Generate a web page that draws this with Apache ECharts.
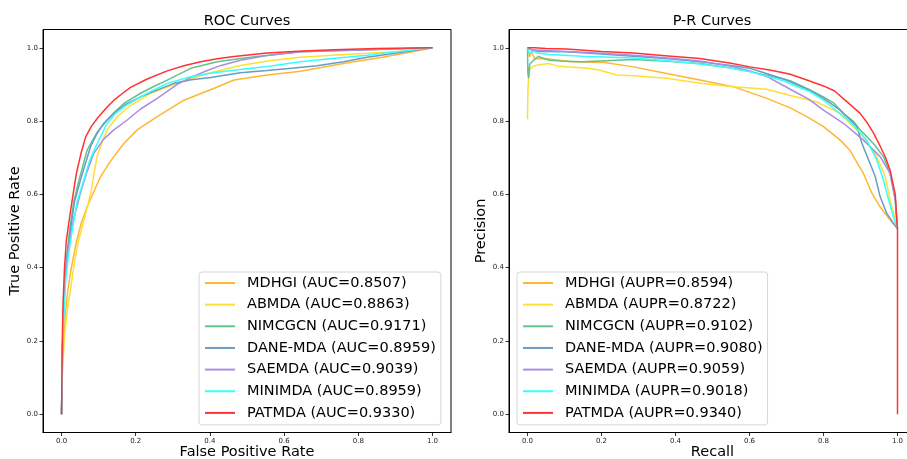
<!DOCTYPE html>
<html>
<head>
<meta charset="utf-8">
<script src="https://cdn.jsdelivr.net/npm/echarts@6/dist/echarts.min.js"></script>
<style>
  html, body { margin: 0; padding: 0; background: #fff; }
  #chart { width: 907px; height: 459px; }
</style>
</head>
<body>
<div id="chart"></div>
<script>
// Model names, in legend order
const models = ['MDHGI', 'ABMDA', 'NIMCGCN', 'DANE-MDA', 'SAEMDA', 'MINIMDA', 'PATMDA'];
const aucValues = ['0.8507', '0.8863', '0.9171', '0.8959', '0.9039', '0.8959', '0.9330'];
const auprValues = ['0.8594', '0.8722', '0.9102', '0.9080', '0.9059', '0.9018', '0.9340'];
const tickValues = [0, 0.2, 0.4, 0.6, 0.8, 1.0];

// ROC curves: [false positive rate, true positive rate]
const rocMDHGI = [[0,0],[0.002,0.12],[0.005,0.2],[0.01,0.27],[0.017,0.339],[0.027,0.403],[0.04,0.47],[0.053,0.521],[0.069,0.566],[0.089,0.612],[0.105,0.648],[0.125,0.68],[0.141,0.703],[0.168,0.739],[0.204,0.776],[0.258,0.812],[0.33,0.857],[0.41,0.889],[0.465,0.912],[0.55,0.925],[0.644,0.936],[0.7,0.946],[0.76,0.957],[0.869,0.975],[0.95,0.99],[1,1]];
const rocABMDA = [[0,0],[0.002,0.1],[0.007,0.2],[0.015,0.28],[0.024,0.339],[0.033,0.403],[0.045,0.47],[0.058,0.52],[0.072,0.575],[0.08,0.61],[0.088,0.66],[0.096,0.703],[0.11,0.745],[0.123,0.776],[0.15,0.812],[0.181,0.839],[0.24,0.876],[0.32,0.906],[0.393,0.93],[0.482,0.952],[0.56,0.965],[0.644,0.974],[0.73,0.98],[0.824,0.985],[0.91,0.99],[1,1]];
const rocNIMCGCN = [[0,0],[0.002,0.15],[0.005,0.28],[0.01,0.38],[0.016,0.45],[0.022,0.503],[0.033,0.58],[0.047,0.639],[0.069,0.721],[0.095,0.768],[0.123,0.803],[0.145,0.827],[0.168,0.848],[0.213,0.876],[0.25,0.895],[0.285,0.912],[0.348,0.944],[0.42,0.962],[0.482,0.971],[0.55,0.979],[0.644,0.989],[0.824,0.995],[1,1]];
const rocDANE = [[0,0],[0.002,0.15],[0.005,0.27],[0.01,0.37],[0.016,0.44],[0.024,0.503],[0.035,0.58],[0.051,0.639],[0.078,0.73],[0.095,0.765],[0.114,0.794],[0.14,0.82],[0.168,0.843],[0.213,0.866],[0.26,0.886],[0.303,0.903],[0.35,0.913],[0.402,0.919],[0.482,0.932],[0.554,0.938],[0.62,0.944],[0.689,0.951],[0.76,0.962],[0.824,0.974],[0.9,0.985],[1,1]];
const rocSAEMDA = [[0,0],[0.002,0.16],[0.005,0.28],[0.01,0.37],[0.016,0.43],[0.022,0.475],[0.032,0.53],[0.05,0.6],[0.068,0.66],[0.087,0.712],[0.113,0.75],[0.141,0.776],[0.177,0.803],[0.213,0.833],[0.258,0.862],[0.312,0.9],[0.35,0.92],[0.393,0.938],[0.43,0.952],[0.482,0.966],[0.55,0.978],[0.644,0.989],[0.824,0.995],[1,1]];
const rocMINIMDA = [[0,0],[0.002,0.14],[0.006,0.27],[0.011,0.36],[0.018,0.43],[0.029,0.503],[0.042,0.58],[0.06,0.639],[0.075,0.69],[0.092,0.73],[0.123,0.794],[0.145,0.82],[0.168,0.839],[0.213,0.866],[0.25,0.886],[0.285,0.903],[0.348,0.921],[0.41,0.932],[0.482,0.941],[0.56,0.95],[0.644,0.962],[0.73,0.971],[0.824,0.98],[0.91,0.99],[1,1]];
const rocPATMDA = [[0,0],[0.001,0.1],[0.002,0.2],[0.004,0.3],[0.008,0.4],[0.013,0.475],[0.017,0.503],[0.025,0.56],[0.033,0.612],[0.04,0.657],[0.052,0.71],[0.065,0.757],[0.08,0.785],[0.096,0.807],[0.12,0.835],[0.141,0.857],[0.165,0.876],[0.186,0.892],[0.231,0.915],[0.285,0.937],[0.33,0.951],[0.375,0.962],[0.42,0.97],[0.465,0.976],[0.554,0.986],[0.65,0.991],[0.734,0.995],[0.85,0.998],[1,1]];

// P-R curves: [recall, precision]
const prMDHGI = [[0,1],[0.003,1],[0.006,0.975],[0.01,0.99],[0.015,0.985],[0.02,0.97],[0.047,0.971],[0.119,0.962],[0.209,0.96],[0.286,0.948],[0.376,0.93],[0.466,0.912],[0.556,0.894],[0.647,0.862],[0.71,0.836],[0.755,0.812],[0.8,0.785],[0.845,0.748],[0.872,0.72],[0.881,0.703],[0.908,0.657],[0.931,0.603],[0.953,0.566],[0.98,0.53],[1,0.507]];
const prABMDA = [[0,0.805],[0.001,0.88],[0.003,0.92],[0.006,0.94],[0.015,0.95],[0.029,0.953],[0.056,0.957],[0.083,0.95],[0.105,0.948],[0.164,0.944],[0.196,0.939],[0.241,0.926],[0.29,0.924],[0.376,0.917],[0.466,0.903],[0.556,0.894],[0.647,0.887],[0.71,0.87],[0.782,0.852],[0.845,0.821],[0.908,0.757],[0.944,0.703],[0.967,0.648],[0.98,0.585],[0.994,0.53],[1,0.507]];
const prNIMCGCN = [[0,1],[0.001,0.93],[0.003,0.917],[0.006,0.955],[0.015,0.965],[0.03,0.977],[0.04,0.972],[0.06,0.966],[0.1,0.963],[0.15,0.962],[0.286,0.968],[0.38,0.963],[0.466,0.957],[0.55,0.945],[0.601,0.935],[0.692,0.915],[0.71,0.91],[0.764,0.885],[0.8,0.866],[0.827,0.85],[0.854,0.821],[0.88,0.8],[0.899,0.776],[0.935,0.739],[0.962,0.703],[0.98,0.657],[0.994,0.585],[1,0.507]];
const prDANE = [[0,1],[0.01,0.995],[0.03,0.99],[0.105,0.989],[0.2,0.983],[0.286,0.977],[0.38,0.97],[0.466,0.962],[0.55,0.952],[0.601,0.944],[0.692,0.915],[0.71,0.907],[0.76,0.885],[0.8,0.862],[0.845,0.83],[0.89,0.785],[0.904,0.739],[0.922,0.694],[0.94,0.648],[0.953,0.594],[0.971,0.548],[0.99,0.52],[1,0.507]];
const prSAEMDA = [[0,1],[0.01,0.995],[0.05,0.993],[0.105,0.99],[0.2,0.985],[0.286,0.98],[0.38,0.972],[0.466,0.964],[0.55,0.95],[0.601,0.937],[0.65,0.92],[0.71,0.887],[0.76,0.86],[0.8,0.83],[0.854,0.794],[0.908,0.748],[0.953,0.703],[0.98,0.657],[0.994,0.585],[1,0.507]];
const prMINIMDA = [[0,1],[0.005,0.985],[0.015,0.99],[0.03,0.985],[0.06,0.982],[0.15,0.977],[0.286,0.972],[0.38,0.965],[0.466,0.956],[0.55,0.945],[0.601,0.935],[0.692,0.91],[0.71,0.902],[0.764,0.88],[0.8,0.857],[0.872,0.798],[0.917,0.748],[0.944,0.694],[0.962,0.639],[0.976,0.585],[0.989,0.539],[1,0.507]];
const prPATMDA = [[0,1],[0.02,1],[0.05,0.998],[0.105,0.997],[0.2,0.99],[0.286,0.986],[0.38,0.978],[0.466,0.971],[0.55,0.958],[0.601,0.948],[0.65,0.94],[0.692,0.932],[0.71,0.928],[0.755,0.912],[0.8,0.896],[0.83,0.882],[0.863,0.853],[0.88,0.838],[0.899,0.821],[0.917,0.797],[0.935,0.768],[0.953,0.732],[0.968,0.7],[0.98,0.666],[0.994,0.6],[0.998,0.53],[1,0.503],[1,0]];

const rocData = [rocMDHGI, rocABMDA, rocNIMCGCN, rocDANE, rocSAEMDA, rocMINIMDA, rocPATMDA];
const prData = [prMDHGI, prABMDA, prNIMCGCN, prDANE, prSAEMDA, prMINIMDA, prPATMDA];

// Line colours (orange, gold, mediumseagreen, steelblue, mediumpurple, cyan, red at 0.8 alpha on white)
const colors = ['#ffb733', '#ffdf33', '#63c28e', '#6b9bc3', '#a98de2', '#33ffff', '#ff3333'];

const FONT = 'DejaVu Sans';
const rocNames = models.map((m, i) => m + ' (AUC=' + aucValues[i] + ')');
const prNames = models.map((m, i) => m + ' (AUPR=' + auprValues[i] + ')');

function valueAxis(gridIndex, name, nameGap) {
  return {
    type: 'value', gridIndex: gridIndex, min: -0.05, max: 1.05,
    name: name, nameLocation: 'middle', nameGap: nameGap, nameMoveOverlap: false,
    nameTextStyle: { fontFamily: FONT, fontSize: 14.5, color: '#000' },
    axisLine: { show: true, onZero: false, lineStyle: { color: '#000', width: 1 } },
    axisTick: { show: true, length: 3.5, customValues: tickValues, lineStyle: { color: '#000', width: 0.8 } },
    axisLabel: { customValues: tickValues, fontFamily: FONT, fontSize: 7, color: '#222', margin: 5,
                 formatter: v => v.toFixed(1) },
    splitLine: { show: false }
  };
}

function legendFor(names, left) {
  return {
    data: names, orient: 'vertical', left: left, top: 272,
    icon: 'rect', itemWidth: 30, itemHeight: 2, itemGap: 5.65,
    padding: [3, 5, 4, 6],
    backgroundColor: 'rgba(255,255,255,0.8)', borderColor: '#d6d6d6', borderWidth: 1, borderRadius: 3,
    selectedMode: false,
    textStyle: { fontFamily: FONT, fontSize: 14.5, color: '#000', lineHeight: 16, padding: [0, 0, 0, 7] }
  };
}

const series = [];
models.forEach((m, i) => {
  series.push({
    name: rocNames[i], type: 'line', xAxisIndex: 0, yAxisIndex: 0,
    data: rocData[i], showSymbol: false, symbol: 'none',
    lineStyle: { color: colors[i], width: 1.5 }, itemStyle: { color: colors[i] },
    emphasis: { disabled: true }
  });
});
models.forEach((m, i) => {
  series.push({
    name: prNames[i], type: 'line', xAxisIndex: 1, yAxisIndex: 1,
    data: prData[i], showSymbol: false, symbol: 'none',
    lineStyle: { color: colors[i], width: 1.5 }, itemStyle: { color: colors[i] },
    emphasis: { disabled: true }
  });
});

const chart = echarts.init(document.getElementById('chart'), null, { renderer: 'canvas', width: 907, height: 459 });
chart.setOption({
  animation: false,
  backgroundColor: '#fff',
  title: [
    { text: 'ROC Curves', left: 247, top: 14, textAlign: 'center', padding: 0,
      textStyle: { fontFamily: FONT, fontSize: 14.5, fontWeight: 'normal', color: '#000' } },
    { text: 'P-R Curves', left: 712, top: 14, textAlign: 'center', padding: 0,
      textStyle: { fontFamily: FONT, fontSize: 14.5, fontWeight: 'normal', color: '#000' } }
  ],
  grid: [
    { left: 43, top: 29.5, width: 408, height: 403, show: true, borderColor: '#000', borderWidth: 1,
      backgroundColor: 'transparent', containLabel: false, outerBoundsMode: 'none' },
    { left: 509, top: 29.5, width: 407, height: 403, show: true, borderColor: '#000', borderWidth: 1,
      backgroundColor: 'transparent', containLabel: false, outerBoundsMode: 'none' }
  ],
  xAxis: [valueAxis(0, 'False Positive Rate', 12), valueAxis(1, 'Recall', 12)],
  yAxis: [valueAxis(0, 'True Positive Rate', 20), valueAxis(1, 'Precision', 20)],
  legend: [legendFor(rocNames, 199), legendFor(prNames, 517)],
  series: series
});
</script>
</body>
</html>
